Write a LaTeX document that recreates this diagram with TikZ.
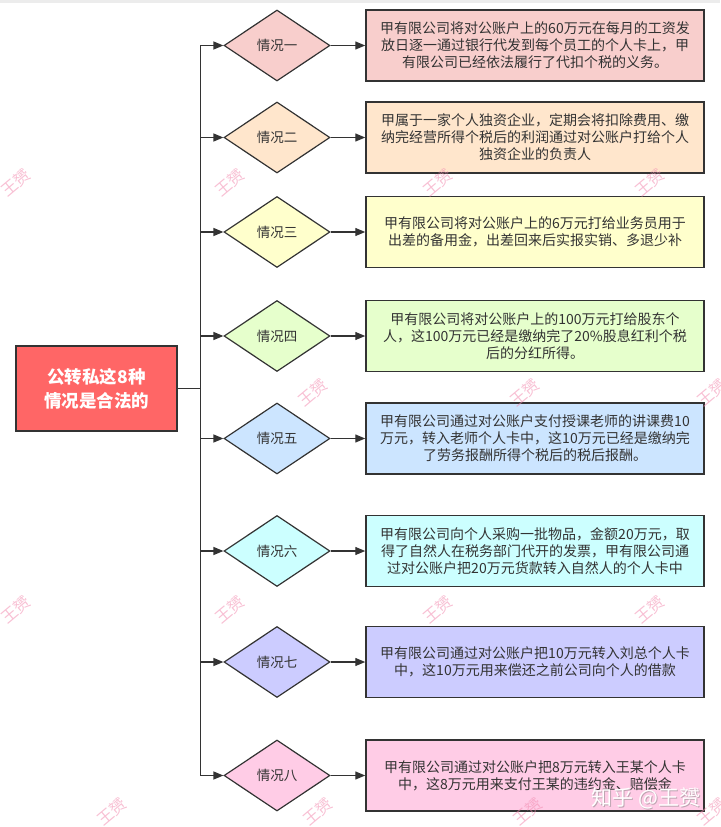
\documentclass[tikz,border=0pt]{standalone}
\usepackage{fontspec}
\setmainfont{Noto Sans CJK SC}
\usepackage{xcolor}
\usetikzlibrary{shapes.geometric, arrows.meta, positioning}
\definecolor{edgegray}{HTML}{333333}
\definecolor{topicred}{HTML}{FF6666}
\definecolor{wmpink}{HTML}{F28CB0}
\definecolor{c1}{HTML}{F8CECC}
\definecolor{c2}{HTML}{FFE6CC}
\definecolor{c3}{HTML}{FFFFCC}
\definecolor{c4}{HTML}{E6FFCC}
\definecolor{c5}{HTML}{CCE5FF}
\definecolor{c6}{HTML}{CCFFFF}
\definecolor{c7}{HTML}{CCCCFF}
\definecolor{c8}{HTML}{FFCCE6}
\tikzset{
    topic/.style={
        rectangle,
        draw=edgegray,
        line width=1.5pt,
        fill=topicred,
        text=white,
        font=\fontsize{17.5}{24}\selectfont\bfseries,
        align=center,
        minimum width=161pt,
        minimum height=85pt,
        inner sep=0pt,
    },
    case/.style={
        diamond,
        draw=edgegray,
        line width=1.2pt,
        text=edgegray,
        font=\fontsize{13.5}{16}\selectfont,
        minimum width=106pt,
        minimum height=71pt,
        inner sep=0pt,
    },
    detail/.style={
        rectangle,
        draw=edgegray,
        line width=1.5pt,
        text=edgegray,
        font=\fontsize{14}{17}\selectfont,
        align=center,
        minimum width=338pt,
        minimum height=71pt,
        inner sep=0pt,
    },
    link/.style={
        draw=edgegray,
        line width=1.3pt,
        -{Triangle[length=10pt,width=8pt]},
    },
    wmark/.style={
        text=wmpink,
        opacity=0.55,
        rotate=40,
        font=\fontsize{16}{16}\selectfont,
    },
}

\begin{document}
\begin{tikzpicture}[x=1pt, y=-1pt, node distance=258pt, on grid]
      \useasboundingbox (0,0) rectangle (720,827);
      \fill[gray!15] (0,0) rectangle (720,2.5);

      \node[topic] (topic) at (96.5,388.5) {公转私这8种\\情况是合法的};

      \node[case, fill=c1] (s1) at (277,45.5) {情况一};
      \node[case, fill=c2] (s2) at (277,137.5) {情况二};
      \node[case, fill=c3] (s3) at (277,232) {情况三};
      \node[case, fill=c4] (s4) at (277,336) {情况四};
      \node[case, fill=c5] (s5) at (277,438.5) {情况五};
      \node[case, fill=c6] (s6) at (277,551) {情况六};
      \node[case, fill=c7] (s7) at (277,662) {情况七};
      \node[case, fill=c8] (s8) at (277,775.5) {情况八};

      \node[detail, fill=c1, right=of s1] (d1) {甲有限公司将对公账户上的60万元在每月的工资发\\放日逐一通过银行代发到每个员工的个人卡上，甲\\有限公司已经依法履行了代扣个税的义务。};
      \node[detail, fill=c2, right=of s2] (d2) {甲属于一家个人独资企业，定期会将扣除费用、缴\\纳完经营所得个税后的利润通过对公账户打给个人\\独资企业的负责人};
      \node[detail, fill=c3, right=of s3] (d3) {甲有限公司将对公账户上的6万元打给业务员用于\\出差的备用金，出差回来后实报实销、多退少补};
      \node[detail, fill=c4, right=of s4] (d4) {甲有限公司将对公账户上的100万元打给股东个\\人，这100万元已经是缴纳完了20\%股息红利个税\\后的分红所得。};
      \node[detail, fill=c5, right=of s5] (d5) {甲有限公司通过对公账户支付授课老师的讲课费10\\万元，转入老师个人卡中，这10万元已经是缴纳完\\了劳务报酬所得个税后的税后报酬。};
      \node[detail, fill=c6, right=of s6] (d6) {甲有限公司向个人采购一批物品，金额20万元，取\\得了自然人在税务部门代开的发票，甲有限公司通\\过对公账户把20万元货款转入自然人的个人卡中};
      \node[detail, fill=c7, right=of s7] (d7) {甲有限公司通过对公账户把10万元转入刘总个人卡\\中，这10万元用来偿还之前公司向个人的借款};
      \node[detail, fill=c8, right=of s8] (d8) {甲有限公司通过对公账户把8万元转入王某个人卡\\中，这8万元用来支付王某的违约金、赔偿金};

      % trunk and branches
      \foreach \i in {1,...,8} {
        \draw[link] (topic.east) -- ++(23,0) |- (s\i.west);
        \draw[link] (s\i) -- (d\i);
      }

      % watermarks
      \foreach \x/\y [count=\k] in {16/183, 230/183, 438/183, 650/183,
                          313/393, 525/393, 712/393,
                          16/610, 230/610, 438/610, 650/610,
                          112/812, 318/812, 528/812, 712/812} {
        \node[wmark] (wm\k) at (\x,\y) {王赟};
      }
      \node[text=gray, opacity=0.5, font=\fontsize{21}{21}\selectfont] (zhshadow) at (647,799) {知乎 @王赟};
      \node[text=white, font=\fontsize{21}{21}\selectfont] (zh) at (646,798) {知乎 @王赟};
\end{tikzpicture}
\end{document}
